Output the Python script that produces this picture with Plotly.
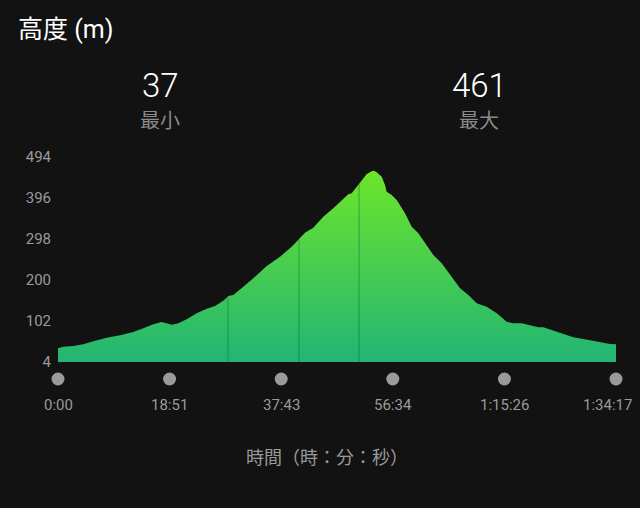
import numpy as np
import plotly.graph_objects as go

# Elapsed time (seconds) and elevation (m)
time_s = [0, 54, 155, 256, 358, 494, 629, 763, 865, 966, 1051, 1102, 1153, 1220,
          1305, 1406, 1508, 1592, 1676, 1727, 1777, 1879, 1980, 2116, 2251, 2369,
          2453, 2504, 2588, 2690, 2791, 2892, 2943, 2978, 3028, 3079, 3130, 3180,
          3204, 3231, 3282, 3315, 3332, 3383, 3434, 3518, 3586, 3653, 3721, 3805,
          3890, 3974, 4076, 4160, 4245, 4346, 4448, 4549, 4616, 4701, 4785, 4869,
          4920, 5021, 5123, 5224, 5326, 5427, 5528, 5596, 5657]
elev_m = [37, 40.6, 42.2, 46.3, 53.5, 62.1, 67.8, 75.7, 84.5, 94.1, 99.6, 96.5,
          93.1, 96.5, 106, 120.4, 131.4, 137.8, 150.5, 161.7, 164.1, 184, 204,
          233.4, 255.7, 279.6, 302, 313, 325, 351.3, 371.3, 395.2, 404.8, 407.2,
          423, 439, 453.3, 459.8, 461, 457.4, 446.9, 427, 411, 403.1, 391.2, 359.4,
          327.4, 311.6, 287.7, 259.7, 239.9, 211.9, 180.1, 164.1, 144.3, 136.2,
          120.4, 100.3, 96.5, 96.5, 92.4, 86.9, 86.9, 78.8, 70.2, 63, 59, 54.2,
          48.7, 47, 46.3]
lap_times = [1723, 2443, 3052]

x_tickvals = [0, 1131, 2263, 3394, 4526, 5657]
x_ticktext = ["0:00", "18:51", "37:43", "56:34", "1:15:26", "1:34:17"]
y_tickvals = [4, 102, 200, 298, 396, 494]

min_val, max_val = 37, 461

BG = "#121212"
GRAY = "#9a9a9a"
FONT = "Roboto, 'Noto Sans CJK JP', sans-serif"

PL, PR, PT, PB = 58, 616, 157, 362
PW, PH = PR - PL, PB - PT


def px_x(px):
    return (px - PL) / PW


def px_y(py):
    return (PB - py) / PH


fig = go.Figure()

# baseline for fill
fig.add_trace(go.Scatter(x=[time_s[0], time_s[-1]], y=[y_tickvals[0]] * 2,
                         mode="lines", line=dict(width=0), hoverinfo="skip",
                         showlegend=False))
fig.add_trace(go.Scatter(
    x=time_s, y=elev_m, mode="lines", line=dict(width=0, color="#44cc55"),
    fill="tonexty",
    fillgradient=dict(type="vertical",
                      colorscale=[[0, "#22b574"], [1, "#6de52a"]]),
    showlegend=False, hoverinfo="skip"))

# lap lines
lap_top = np.interp(lap_times, time_s, elev_m)
lx, ly = [], []
for t, top in zip(lap_times, lap_top):
    lx += [t, t, None]
    ly += [y_tickvals[0], top - 2, None]
fig.add_trace(go.Scatter(x=lx, y=ly, mode="lines",
                         line=dict(width=1, color="rgba(10,90,50,0.45)"),
                         showlegend=False, hoverinfo="skip"))

# dots and labels below axis
t0, t1 = time_s[0], time_s[-1]
shapes = []
annotations = []
for i, (t, lab) in enumerate(zip(x_tickvals, x_ticktext)):
    fx = (t - t0) / (t1 - t0)
    shapes.append(dict(type="circle", xref="paper", yref="paper",
                       xsizemode="pixel", ysizemode="pixel",
                       xanchor=fx, yanchor=px_y(379),
                       x0=-6.5, x1=6.5, y0=-6.5, y1=6.5,
                       fillcolor=GRAY, line=dict(width=0), layer="above"))
    shift = -9 if i == len(x_tickvals) - 1 else 0
    annotations.append(dict(text=lab, xref="paper", yref="paper", x=fx,
                            y=px_y(405), xanchor="center", yanchor="middle",
                            xshift=shift, showarrow=False,
                            font=dict(size=15, color=GRAY)))

annotations += [
    dict(text="高度 (m)", xref="paper", yref="paper", x=px_x(16), y=px_y(30),
         xanchor="left", yanchor="middle", showarrow=False,
         font=dict(size=25, color="#ffffff")),
    dict(text=str(min_val), xref="paper", yref="paper", x=px_x(160),
         y=px_y(86), xanchor="center", yanchor="middle",
         showarrow=False, font=dict(size=33, color="#ffffff", weight=300)),
    dict(text="最小", xref="paper", yref="paper", x=px_x(160),
         y=px_y(121), xanchor="center", yanchor="middle",
         showarrow=False, font=dict(size=20, color="#8a8a8a")),
    dict(text=str(max_val), xref="paper", yref="paper", x=px_x(479),
         y=px_y(86), xanchor="center", yanchor="middle",
         showarrow=False, font=dict(size=33, color="#ffffff", weight=300)),
    dict(text="最大", xref="paper", yref="paper", x=px_x(479),
         y=px_y(121), xanchor="center", yanchor="middle",
         showarrow=False, font=dict(size=20, color="#8a8a8a")),
    dict(text="時間（時：分：秒）", xref="paper", yref="paper", x=px_x(327),
         y=px_y(457), xanchor="center", yanchor="middle",
         showarrow=False, font=dict(size=18, color=GRAY)),
]

fig.update_layout(
    width=640, height=508,
    paper_bgcolor=BG, plot_bgcolor=BG,
    margin=dict(l=PL, r=640 - PR, t=PT, b=508 - PB, autoexpand=False),
    font=dict(family=FONT, color=GRAY),
    xaxis=dict(range=[t0, t1], showticklabels=False,
               showgrid=False, zeroline=False, showline=False, ticks="",
               automargin=False),
    yaxis=dict(range=[y_tickvals[0], y_tickvals[-1]], tickvals=y_tickvals,
               showgrid=False, zeroline=False, automargin=False,
               showline=False, ticks="", tickfont=dict(size=15, color=GRAY),
               ticklabelstandoff=6),
    shapes=shapes,
    annotations=annotations,
)

fig.write_html("out.html")
